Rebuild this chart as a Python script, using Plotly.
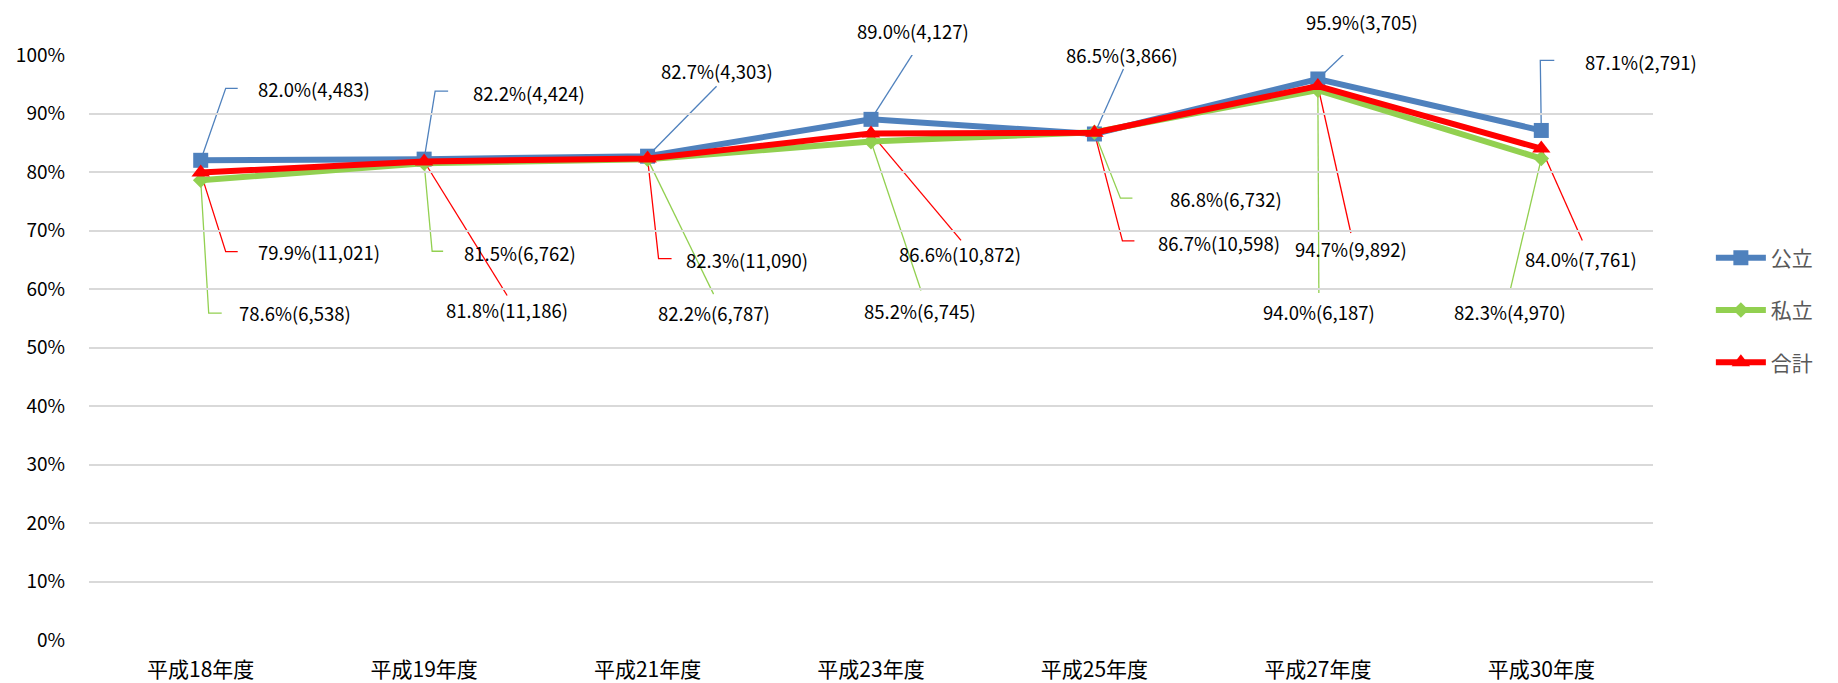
import plotly.graph_objects as go

# ---------------- data ----------------
categories = ["平成18年度", "平成19年度", "平成21年度", "平成23年度", "平成25年度", "平成27年度", "平成30年度"]

public_rate = [82.0, 82.2, 82.7, 89.0, 86.5, 95.9, 87.1]
public_count = [4483, 4424, 4303, 4127, 3866, 3705, 2791]

private_rate = [78.6, 81.5, 82.2, 85.2, 86.8, 94.0, 82.3]
private_count = [6538, 6762, 6787, 6745, 6732, 6187, 4970]

total_rate = [79.9, 81.8, 82.3, 86.6, 86.7, 94.7, 84.0]
total_count = [11021, 11186, 11090, 10872, 10598, 9892, 7761]

series_names = ["公立", "私立", "合計"]
y_ticks = [0, 0.1, 0.2, 0.3, 0.4, 0.5, 0.6, 0.7, 0.8, 0.9, 1.0]

# ---------------- label placement (pixel offsets from each point; screen y down) ----------------
# ("elbow", [elbow, end], text_left) or ("center", [end], text_center)
public_label_pos = [
    ("elbow", [(25, -72), (37, -72)], (55, -71)),
    ("elbow", [(11, -68), (24, -68)], (47, -66)),
    ("center", [(69, -70)], (69, -85)),
    ("center", [(46, -72)], (42, -88)),
    ("center", [(29, -65)], (28, -79)),
    ("center", [(44, -42)], (44, -57)),
    ("elbow", [(-1, -70), (13, -70)], (42, -68)),
]
private_label_pos = [
    ("elbow", [(8, 133), (21, 133)], (36, 133)),
    ("elbow", [(8, 88), (19, 88)], (38, 90)),
    ("center", [(66, 135)], (66, 154)),
    ("center", [(50, 149)], (49, 169)),
    ("elbow", [(26, 66), (38, 66)], (74, 67)),
    ("center", [(1, 203)], (1, 222)),
    ("center", [(-31, 131)], (-31, 153)),
]
total_label_pos = [
    ("elbow", [(25, 79), (37, 79)], (55, 79)),
    ("center", [(83, 134)], (83, 149)),
    ("elbow", [(11, 100), (24, 100)], (36, 101)),
    ("center", [(90, 107)], (89, 121)),
    ("elbow", [(28, 108), (40, 108)], (62, 110)),
    ("center", [(33, 147)], (33, 163)),
    ("center", [(41, 92)], (40, 110)),
]

colors = ["#4F81BD", "#92D050", "#FF0000"]
symbols = ["square", "diamond", "triangle-up"]
marker_sizes = [15, 12, 16]

rates = [public_rate, private_rate, total_rate]
counts = [public_count, private_count, total_count]
label_pos = [public_label_pos, private_label_pos, total_label_pos]

num_font = "Noto Sans CJK JP, Noto Sans, sans-serif"

fig = go.Figure()
for k in range(3):
    fig.add_trace(go.Scatter(
        x=categories,
        y=[v / 100 for v in rates[k]],
        name=series_names[k],
        legendgroup=series_names[k],
        mode="lines+markers",
        line=dict(color=colors[k], width=6),
        marker=dict(symbol=symbols[k], size=marker_sizes[k], color=colors[k]),
        hoverinfo="skip",
    ))

shapes = []
annotations = []
for k in range(3):
    for i, cat in enumerate(categories):
        kind, pts, tpos = label_pos[k][i]
        path = "M0,0 " + " ".join(f"L{dx},{-dy}" for dx, dy in pts)
        shapes.append(dict(
            type="path", xref="x", yref="y",
            xsizemode="pixel", ysizemode="pixel",
            xanchor=cat, yanchor=rates[k][i] / 100,
            path=path, layer="below",
            line=dict(color=colors[k], width=1.3),
        ))
        annotations.append(dict(
            x=cat, y=rates[k][i] / 100, xref="x", yref="y",
            text=f"{rates[k][i]:.1f}%({counts[k][i]:,})",
            showarrow=False,
            xanchor="left" if kind == "elbow" else "center",
            yanchor="middle",
            xshift=tpos[0], yshift=-tpos[1],
            font=dict(family=num_font, size=18.5, color="#000000"),
        ))

# page body has an 8px margin, so the figure is sized/offset to compensate
fig.update_layout(
    width=1830, height=675,
    margin=dict(l=81, r=185, t=47, b=43, autoexpand=False),
    paper_bgcolor="white", plot_bgcolor="white",
    shapes=shapes, annotations=annotations,
    showlegend=True,
    legend=dict(
        x=1.037, xanchor="left", y=0.564, yanchor="middle",
        traceorder="grouped", tracegroupgap=22,
        font=dict(family="Noto Sans CJK JP", size=21, color="#595959"),
        itemwidth=50,
        bgcolor="rgba(0,0,0,0)",
    ),
    xaxis=dict(
        type="category", range=[-0.5, 6.5], automargin=False,
        showgrid=False, zeroline=False, showline=False,
        ticks="", ticklabelstandoff=15,
        tickfont=dict(family="Noto Sans CJK JP", size=21, color="#000000"),
    ),
    yaxis=dict(
        range=[0, 1], tickvals=y_ticks, tickformat=".0%", automargin=False,
        showgrid=True, gridcolor="#D9D9D9", gridwidth=1.5,
        zeroline=False, showline=False, ticks="",
        ticklabelstandoff=23,
        tickfont=dict(family=num_font, size=19, color="#000000"),
    ),
)

fig.write_html("out.html")
